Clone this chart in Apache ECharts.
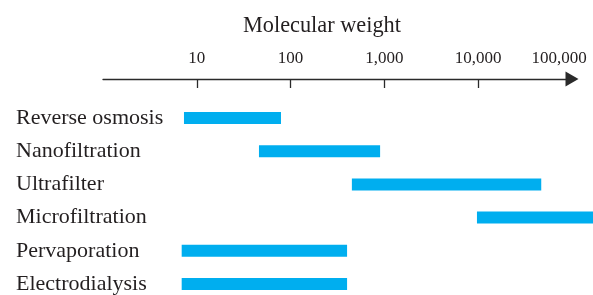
<!DOCTYPE html>
<html>
<head>
<meta charset="utf-8">
<script src="https://cdn.jsdelivr.net/npm/echarts@6/dist/echarts.min.js"></script>
<style>html,body{margin:0;padding:0;background:#fff}#c{width:593px;height:295px}</style>
</head>
<body>
<div id="c"></div>
<script>
const categories = ['Reverse osmosis', 'Nanofiltration', 'Ultrafilter', 'Microfiltration', 'Pervaporation', 'Electrodialysis'];
const rangeStart = [7.3, 46, 450, 9700, 6.9, 6.9];
const rangeEnd = [79, 900, 47000, 200000, 400, 400];
const tickValues = [10, 100, 1000, 10000];
const tickLabels = [10, 100, 1000, 10000, 100000];
const axisTitle = 'Molecular weight';

const FONT = 'Liberation Serif';
const TXT = '#231f20';
const chart = echarts.init(document.getElementById('c'), null, {renderer: 'canvas'});
const spans = rangeEnd.map((e, i) => e - rangeStart[i]);
const fmt = v => Number(v).toLocaleString('en-US');

chart.setOption({
  animation: false,
  title: {
    text: axisTitle, left: 238, top: 10,
    textStyle: {fontFamily: FONT, fontSize: 22.3, fontWeight: 'normal', color: TXT}
  },
  grid: [
    {left: 103, right: 21, top: 78, height: 1},
    {left: 103, right: 21, top: 118, height: 168.2}
  ],
  xAxis: [
    {
      gridIndex: 0, type: 'log', logBase: 10, min: 1, max: 100000, position: 'top',
      axisLine: {show: true, lineStyle: {color: '#2a2a2a', width: 1.3}, symbol: ['none', 'triangle'], symbolSize: [15, 13]},
      axisTick: {show: true, inside: true, length: 9, lineStyle: {color: '#2a2a2a', width: 1.3}, customValues: tickValues},
      axisLabel: {
        customValues: tickLabels, margin: 11,
        fontFamily: FONT, fontSize: 17, color: TXT,
        formatter: v => (v >= 100000 ? '{m|' + fmt(v) + '}' : fmt(v)),
        rich: {m: {fontFamily: FONT, fontSize: 17, color: TXT, padding: [0, 26, 0, 0]}}
      },
      splitLine: {show: false}
    },
    {
      gridIndex: 1, type: 'log', logBase: 10, min: 1, max: 100000, show: false
    }
  ],
  yAxis: [
    {gridIndex: 0, type: 'value', show: false},
    {
      gridIndex: 1, type: 'category', data: categories, inverse: true, boundaryGap: false,
      axisLine: {show: false}, axisTick: {show: false}, splitLine: {show: false},
      axisLabel: {align: 'left', margin: 87, fontFamily: FONT, fontSize: 22, color: TXT}
    }
  ],
  series: [
    {
      type: 'bar', xAxisIndex: 1, yAxisIndex: 1, stack: 'r', data: rangeStart,
      itemStyle: {color: 'transparent'}, barWidth: 12, clip: false, silent: true
    },
    {
      type: 'bar', xAxisIndex: 1, yAxisIndex: 1, stack: 'r', data: spans,
      itemStyle: {color: '#00aeef'}, barWidth: 12, clip: false
    }
  ]
});
</script>
</body>
</html>
